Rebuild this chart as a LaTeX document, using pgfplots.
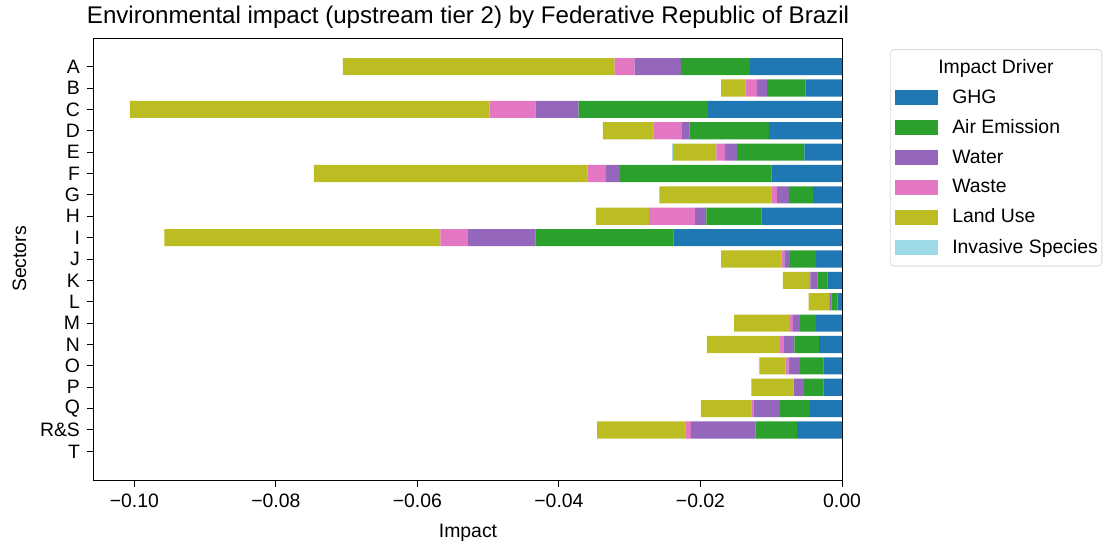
\documentclass[border=0pt]{standalone}
\usepackage{pgfplots}
\pgfplotsset{compat=1.18}
\usepackage{pgfplotstable}
\usepackage{fontspec}
\setmainfont{Liberation Sans}

\definecolor{cGHG}{HTML}{1F77B4}
\definecolor{cAir}{HTML}{2CA02C}
\definecolor{cWater}{HTML}{9467BD}
\definecolor{cWaste}{HTML}{E377C2}
\definecolor{cLand}{HTML}{BCBD22}
\definecolor{cInv}{HTML}{9EDAE5}

% Impact by driver for each sector (negative = adverse)
\pgfplotstableread{
pos ghg air water waste land inv
0  -0.01303 -0.00974 -0.00655 -0.00282 -0.03840 0
1  -0.00513 -0.00546 -0.00141 -0.00165 -0.00343 0
2  -0.01892 -0.01831 -0.00607 -0.00649 -0.05083 0
3  -0.01035 -0.01121 -0.00103 -0.00405 -0.00714 0
4  -0.00532 -0.00954 -0.00165 -0.00123 -0.00611 -0.00014
5  -0.00998 -0.02136 -0.00202 -0.00260 -0.03868 0
6  -0.00409 -0.00343 -0.00165 -0.00080 -0.01585 0
7  -0.01139 -0.00777 -0.00160 -0.00649 -0.00753 0
8  -0.02382 -0.01948 -0.00954 -0.00391 -0.03901 0
9  -0.00367 -0.00371 -0.00076 -0.00042 -0.00851 0
10 -0.00208 -0.00141 -0.00099 -0.00018 -0.00371 0
11 -0.00061 -0.00090 -0.00018 -0.00014 -0.00287 0
12 -0.00367 -0.00226 -0.00103 -0.00042 -0.00786 0
13 -0.00325 -0.00349 -0.00145 -0.00056 -0.01035 0
14 -0.00264 -0.00329 -0.00160 -0.00042 -0.00367 -0.00014
15 -0.00264 -0.00272 -0.00141 -0.00010 -0.00593 0
16 -0.00452 -0.00424 -0.00367 -0.00038 -0.00714 0
17 -0.00635 -0.00589 -0.00912 -0.00076 -0.01247 0
18 0 0 0 0 0 0
}\impact

\newcommand{\basefont}{\fontsize{9.7}{11.6}\selectfont}

\begin{document}
\begin{tikzpicture}
\useasboundingbox (-47pt,-33pt) rectangle (506.5pt,240pt);
\begin{axis}[
  at={(0pt,0pt)}, anchor=south west,
  scale only axis,
  width=374pt, height=221pt,
  xbar stacked,
  bar width=0.8,
  xmin=-0.1057, xmax=0,
  ymin=-1.34, ymax=19.34,
  y dir=reverse,
  ytick={0,...,18},
  yticklabels={A,B,C,D,E,F,G,H,I,J,K,L,M,N,O,P,Q,R\&S,T},
  xtick={-0.1,-0.08,-0.06,-0.04,-0.02,0},
  xticklabels={−0.10,−0.08,−0.06,−0.04,−0.02,0.00},
  tick align=outside,
  tick pos=left,
  major tick length=3.5pt,
  tick style={black, line width=0.5pt},
  axis line style={black, line width=0.5pt},
  ticklabel style={font=\basefont},
  title={Environmental impact (upstream tier 2) by Federative Republic of Brazil},
  title style={font=\fontsize{12.05}{14}\selectfont, yshift=-5pt},
  xlabel={Impact},
  ylabel={Sectors},
  label style={font=\basefont},
  xlabel style={yshift=-1.5pt},
  ylabel style={yshift=0pt},
  legend image code/.code={\path (0pt,0pt); \fill[#1, sharp corners] (2.5pt,-3.75pt) rectangle (24pt,3.75pt);},
  legend style={
    at={(1.064,0.975)}, anchor=north west,
    draw=black!15, rounded corners=2pt,
    font=\basefont,
    row sep=2.6pt,
    inner xsep=0pt, inner ysep=3pt,
    cells={anchor=west},
    /tikz/every odd column/.append style={column sep=5pt},
  },
]
\addlegendimage{empty legend}
\addlegendentry{\hspace{-7pt}Impact Driver}
\addplot[fill=cGHG, draw=none] table[x=ghg, y=pos] {\impact};
\addlegendentry{GHG}
\addplot[fill=cAir, draw=none] table[x=air, y=pos] {\impact};
\addlegendentry{Air Emission}
\addplot[fill=cWater, draw=none] table[x=water, y=pos] {\impact};
\addlegendentry{Water}
\addplot[fill=cWaste, draw=none] table[x=waste, y=pos] {\impact};
\addlegendentry{Waste}
\addplot[fill=cLand, draw=none] table[x=land, y=pos] {\impact};
\addlegendentry{Land Use}
\addplot[fill=cInv, draw=none] table[x=inv, y=pos] {\impact};
\addlegendentry{Invasive Species}
\end{axis}
\end{tikzpicture}
\end{document}
